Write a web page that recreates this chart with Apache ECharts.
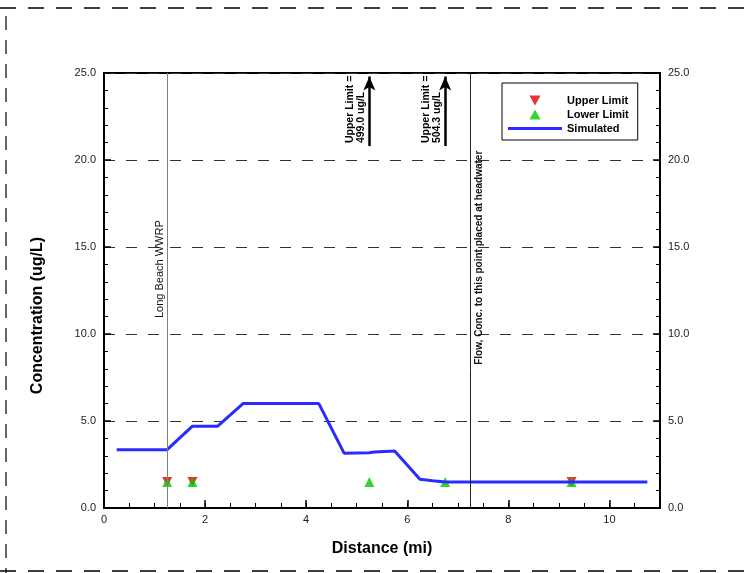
<!DOCTYPE html>
<html>
<head>
<meta charset="utf-8">
<script src="https://cdn.jsdelivr.net/npm/echarts@6/dist/echarts.min.js"></script>
<style>
html,body{margin:0;padding:0;background:#fff;}
#chart{width:745px;height:573px;}
</style>
</head>
<body>
<div id="chart"></div>
<script>
// ---- data ----
const simDistance = [0.25, 0.75, 1.25, 1.75, 2.25, 2.75, 3.25, 3.75, 4.25, 4.75, 5.25, 5.35, 5.75, 6.25, 6.5, 6.75, 7.25, 7.75, 8.25, 8.75, 9.25, 9.75, 10.25, 10.75];
const simConc     = [3.35, 3.35, 3.35, 4.7, 4.7, 6.0, 6.0, 6.0, 6.0, 3.15, 3.18, 3.22, 3.28, 1.65, 1.57, 1.5, 1.5, 1.5, 1.5, 1.5, 1.5, 1.5, 1.5, 1.5];

const upperDistance = [1.25, 1.75, 9.25];
const upperConc     = [1.5, 1.5, 1.5];

const lowerDistance = [1.25, 1.75, 5.25, 6.75, 9.25];
const lowerConc     = [1.5, 1.5, 1.5, 1.5, 1.5];

// upper limits off the scale (drawn as arrows)
const offScaleDistance = [5.25, 6.75];
const offScaleText     = ['499.0 ug/L', '504.3 ug/L'];
const offScaleArrowFrom = 20.8;
const offScaleArrowTo   = 24.8;

// vertical reference lines
const refDistance  = [1.25, 7.25];
const refLabels    = ['Long Beach WWRP', 'Flow, Conc. to this point placed at headwater'];
const refLabelFrom = [10.8, 8.0];

const xTickLabels = ['0', '2', '4', '6', '8', '10'];
const yTickLabels = ['0.0', '5.0', '10.0', '15.0', '20.0', '25.0'];

const seriesNames = ['Upper Limit', 'Lower Limit', 'Simulated'];

// ---- chart ----
const SANS = "'Liberation Sans', Arial, sans-serif";
const chart = echarts.init(document.getElementById('chart'), null, {renderer: 'canvas'});

const zip = (a, b) => a.map((v, i) => [v, b[i]]);

const refLineData = [];
refDistance.forEach((x, i) => {
  const style = i === 0 ? {color: '#808080', width: 1, type: 'solid'} : {color: '#202020', width: 1, type: 'solid'};
  refLineData.push([{coord: [x, 0], lineStyle: style, label: {show: false}}, {coord: [x, refLabelFrom[i]]}]);
  refLineData.push([{
    coord: [x, refLabelFrom[i]], lineStyle: style,
    label: {
      show: true, formatter: refLabels[i],
      position: i === 0 ? 'insideStartTop' : 'insideStartBottom',
      distance: i === 0 ? 2 : 4,
      fontFamily: SANS, fontSize: i === 0 ? 11 : 10, fontWeight: i === 0 ? 'normal' : 'bold', color: '#111'
    }
  }, {coord: [x, 25]}]);
});

const arrowData = offScaleDistance.map((x, i) => [{
  coord: [x, offScaleArrowFrom],
  label: {
    show: true, formatter: 'Upper Limit =\n' + offScaleText[i],
    position: 'insideStartTop', distance: 3,
    fontFamily: SANS, fontSize: 10.5, fontWeight: 'bold', color: '#000', lineHeight: 11, align: 'left'
  }
}, {coord: [x, offScaleArrowTo]}]);

const yLabelFmt = v => (Math.abs(v % 5) < 1e-9 && yTickLabels[Math.round(v / 5)] !== undefined) ? yTickLabels[Math.round(v / 5)] : '';
const xLabelFmt = v => (Math.abs(v % 2) < 1e-9 && xTickLabels[v / 2] !== undefined) ? xTickLabels[v / 2] : '';

chart.setOption({
  animation: false,
  backgroundColor: '#fff',
  grid: {left: 104, right: 85, top: 73, bottom: 65, show: true, borderColor: '#000', borderWidth: 2, backgroundColor: 'transparent'},
  legend: {
    data: [
      {name: seriesNames[0], icon: 'path://M0,0L10,0L5,9Z'},
      {name: seriesNames[1], icon: 'path://M5,0L10,9L0,9Z'},
      {name: seriesNames[2], icon: 'path://M0,0L54,0L54,3L0,3Z'}
    ],
    orient: 'vertical',
    left: 502, top: 83,
    padding: [12, 9, 6, 6],
    itemWidth: 54, itemHeight: 10, itemGap: 3,
    symbolKeepAspect: true,
    borderColor: '#000', borderWidth: 1,
    textStyle: {fontFamily: SANS, fontSize: 11, fontWeight: 'bold', color: '#000'},
    backgroundColor: '#fff'
  },
  xAxis: [{
    type: 'value', min: 0, max: 11, interval: 2, position: 'bottom',
    name: 'Distance (mi)', nameLocation: 'middle', nameGap: 33,
    nameTextStyle: {fontFamily: SANS, fontSize: 16, fontWeight: 'bold', color: '#000'},
    axisLine: {show: true, onZero: false, lineStyle: {color: '#000', width: 2}},
    axisTick: {show: true, inside: true, length: 8, lineStyle: {color: '#000', width: 1.5}},
    axisLabel: {formatter: xLabelFmt, showMaxLabel: false, fontFamily: SANS, fontSize: 11, color: '#222', margin: 6},
    splitLine: {show: false}
  }, {
    type: 'value', min: 0, max: 11, interval: 0.5, position: 'bottom',
    axisLine: {show: false},
    axisTick: {show: true, inside: true, length: 5, lineStyle: {color: '#000', width: 1}},
    axisLabel: {show: false},
    splitLine: {show: false}
  }],
  yAxis: [{
    type: 'value', min: 0, max: 25, interval: 5, position: 'left',
    name: 'Concentration (ug/L)', nameLocation: 'middle', nameGap: 58, nameRotate: 90,
    nameTextStyle: {fontFamily: SANS, fontSize: 16, fontWeight: 'bold', color: '#000', padding: [0, 50, 0, 0]},
    axisLine: {show: true, onZero: false, lineStyle: {color: '#000', width: 2}},
    axisTick: {show: true, inside: true, length: 7, lineStyle: {color: '#000', width: 1.5}},
    minorTick: {show: true, splitNumber: 5, length: 4, lineStyle: {color: '#000', width: 1}},
    axisLabel: {formatter: yLabelFmt, fontFamily: SANS, fontSize: 11, color: '#222', margin: 8},
    splitLine: {show: true, lineStyle: {color: '#333', width: 1, type: [11, 11]}}
  }, {
    type: 'value', min: 0, max: 25, interval: 5, position: 'right',
    axisLine: {show: true, onZero: false, lineStyle: {color: '#000', width: 2}},
    axisTick: {show: true, inside: true, length: 7, lineStyle: {color: '#000', width: 1.5}},
    minorTick: {show: true, splitNumber: 5, length: 4, lineStyle: {color: '#000', width: 1}},
    axisLabel: {formatter: yLabelFmt, fontFamily: SANS, fontSize: 11, color: '#222', margin: 8},
    splitLine: {show: false}
  }],
  graphic: [
    {type: 'line', shape: {x1: 0, y1: 8, x2: 745, y2: 8}, style: {stroke: '#000', lineWidth: 1.5, lineDash: [16, 12]}, silent: true},
    {type: 'line', shape: {x1: 0, y1: 571, x2: 745, y2: 571}, style: {stroke: '#000', lineWidth: 1.5, lineDash: [16, 12]}, silent: true},
    {type: 'line', shape: {x1: 6, y1: 16, x2: 6, y2: 573}, style: {stroke: '#000', lineWidth: 1.2, lineDash: [14, 10]}, silent: true}
  ],
  series: [{
    name: seriesNames[0], type: 'scatter', xAxisIndex: 0, yAxisIndex: 0,
    data: zip(upperDistance, upperConc),
    symbol: 'triangle', symbolRotate: 180, symbolSize: 10,
    itemStyle: {color: '#e00000'},
    markLine: {
      silent: true, animation: false,
      symbol: ['none', 'arrow'], symbolSize: [9, 14],
      lineStyle: {color: '#000', width: 2.5, type: 'solid'},
      data: arrowData
    }
  }, {
    name: seriesNames[1], type: 'scatter', xAxisIndex: 0, yAxisIndex: 0,
    data: zip(lowerDistance, lowerConc),
    symbol: 'triangle', symbolSize: 10,
    itemStyle: {color: '#00c800'}
  }, {
    name: seriesNames[2], type: 'line', xAxisIndex: 0, yAxisIndex: 0,
    data: zip(simDistance, simConc),
    showSymbol: false, symbol: 'none',
    lineStyle: {color: '#2b2bff', width: 3},
    itemStyle: {color: '#2b2bff'},
    markLine: {
      silent: true, animation: false,
      symbol: ['none', 'none'],
      data: refLineData
    }
  }]
});
</script>
</body>
</html>
